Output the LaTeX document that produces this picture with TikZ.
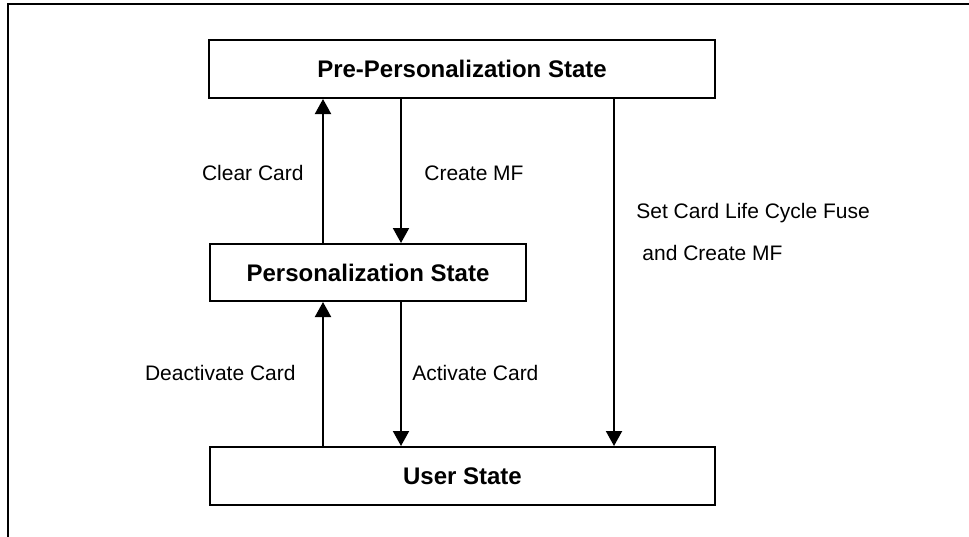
\documentclass[tikz,border=0pt]{standalone}
\usepackage{fontspec}
\setmainfont{Liberation Sans}
\usetikzlibrary{arrows.meta}

\begin{document}
\begin{tikzpicture}[x=0.5pt, y=-0.5pt]

\tikzset{statebox/.style={draw=black, line width=1pt, shape=rectangle, inner sep=0, font=\fontsize{12}{14}\selectfont\bfseries}}
\tikzset{translabel/.style={inner sep=0, font=\fontsize{10.5}{12}\selectfont}}
\tikzset{transition/.style={line width=1pt, -{Triangle[length=7.5pt, width=8pt]}}}
\tikzset{frameline/.style={line width=1pt}}

\useasboundingbox (0,0) rectangle (969,536);
\draw[frameline] (8,540) -- (8,3.5) -- (975,3.5);

\node[statebox, minimum width=253pt, minimum height=29pt] (pre) at (462,69) {Pre-Personalization State};
\node[statebox, minimum width=158pt, minimum height=28.5pt] (pers) at (368,272.5) {Personalization State};
\node[statebox, minimum width=252.5pt, minimum height=29pt] (user) at (462.5,476) {User State};

\coordinate (up) at (323,0);
\coordinate (down) at (401,0);
\coordinate (fuse) at (614,0);

\draw[transition] (pers.north -| up) -- (pre.south -| up);
\draw[transition] (pre.south -| down) -- (pers.north -| down);
\draw[transition] (user.north -| up) -- (pers.south -| up);
\draw[transition] (pers.south -| down) -- (user.north -| down);
\draw[transition] (pre.south -| fuse) -- (user.north -| fuse);

\node[translabel, anchor=east] (clear) at (304,173) {Clear Card};
\node[translabel, anchor=west] (create) at (424,173) {Create MF};
\node[translabel, anchor=east] (deact) at (296,373) {Deactivate Card};
\node[translabel, anchor=west] (act) at (412,373) {Activate Card};
\node[translabel, anchor=west] (setfuse) at (636,213) {Set Card Life Cycle Fuse};
\node[translabel, anchor=west] (andmf) at (642,253) {and Create MF};

\end{tikzpicture}
\end{document}
